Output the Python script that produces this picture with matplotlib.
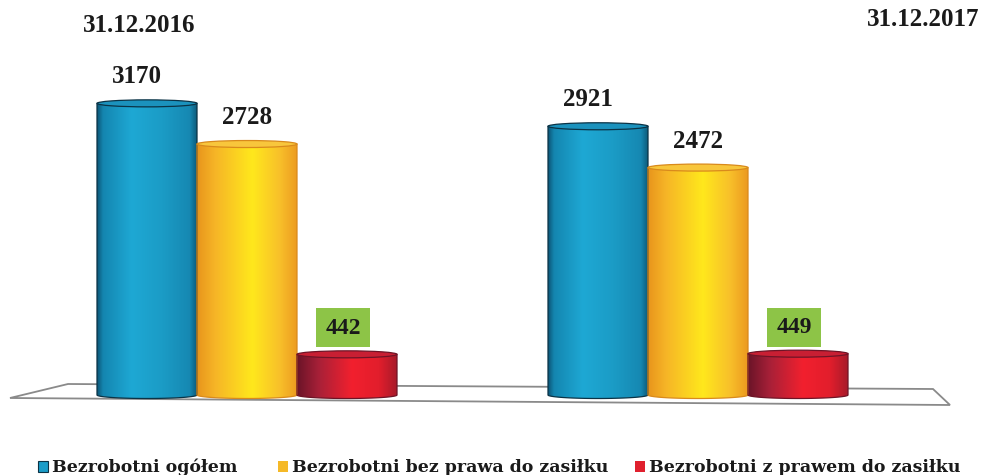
import numpy as np
import matplotlib
matplotlib.use("Agg")
import matplotlib.pyplot as plt
from matplotlib.patches import Ellipse, PathPatch, Polygon, Rectangle
from matplotlib.path import Path
from matplotlib.colors import LinearSegmentedColormap
from matplotlib.transforms import ScaledTranslation

# ---------------- data ----------------
dates = ["31.12.2016", "31.12.2017"]
series_labels = ["Bezrobotni ogółem",
                 "Bezrobotni bez prawa do zasiłku",
                 "Bezrobotni z prawem do zasiłku"]
ogolem = [3170, 2921]
bez_prawa = [2728, 2472]
z_prawem = [442, 449]

# ---------------- style ----------------
W, H = 984, 475
PX_PER_UNIT = 0.092
BASE_PX = 395            # baseline, px from top
TXT = "#1a1a1a"
SERIF = ["Liberation Serif", "DejaVu Serif"]

cmaps = [
    LinearSegmentedColormap.from_list("b", [(0, "#0c5576"), (0.06, "#1486b0"), (0.35, "#1ea8d4"),
                                            (0.65, "#1b9cc6"), (0.93, "#1688b2"), (1, "#0e5c7c")]),
    LinearSegmentedColormap.from_list("y", [(0, "#e8951c"), (0.18, "#f6b527"), (0.55, "#ffe81c"),
                                            (0.82, "#f8c02a"), (1, "#ec9a20")]),
    LinearSegmentedColormap.from_list("r", [(0, "#6a1428"), (0.22, "#a82038"), (0.55, "#f2202e"),
                                            (0.82, "#e21e2c"), (1, "#a81a2a")]),
]
top_colors = ["#1b92bd", "#f8c63c", "#c81f33"]
edge_colors = ["#0b3346", "#d98a1c", "#6e1426"]
legend_colors = ["#1a9cc8", "#f5b928", "#e0202e"]

fig = plt.figure(figsize=(W / 100, H / 100), dpi=100)
ax = fig.add_axes([0, 0, 1, 1])
ax.axis("off")
ylo = -(H - BASE_PX) / PX_PER_UNIT
yhi = BASE_PX / PX_PER_UNIT
unit_px = 451.0
x0_px = 247
x_left = -x0_px / unit_px
x_right = (W - x0_px) / unit_px


def fp(x, y):
    """figure pixel (from top) -> figure fraction"""
    return (x / W, 1 - y / H)


# floor (decoration)
floor = Polygon([fp(10, 398), fp(68, 384), fp(933, 389), fp(950, 405)], closed=True,
                facecolor="white", edgecolor="#8a8a8a", lw=1.3, transform=fig.transFigure, zorder=0)
ax.add_patch(floor)

bw = 100 / unit_px
x = np.arange(len(dates))
all_series = [ogolem, bez_prawa, z_prawem]
e = 3.5 / PX_PER_UNIT   # ellipse half-height in data units
grad = np.linspace(0, 1, 256).reshape(1, -1)

for si, vals in enumerate(all_series):
    bars = ax.bar(x + (si - 1) * bw, vals, width=bw, color="none", edgecolor="none", zorder=2)
    for bar, v in zip(bars, vals):
        x0 = bar.get_x()
        w = bar.get_width()
        h = bar.get_height()
        xc = x0 + w / 2
        t = np.linspace(np.pi, 2 * np.pi, 40)
        arc = np.column_stack([xc + w / 2 * np.cos(t), e * np.sin(t)])
        verts = np.vstack([[x0, h], arc, [x0 + w, h], [x0, h]])
        codes = [Path.MOVETO] + [Path.LINETO] * (len(verts) - 2) + [Path.CLOSEPOLY]
        path = Path(verts, codes)
        clip = PathPatch(path, facecolor="none", edgecolor=edge_colors[si], lw=0.9, zorder=3)
        ax.add_patch(clip)
        im = ax.imshow(grad, extent=[x0, x0 + w, -e, h], cmap=cmaps[si], aspect="auto",
                       interpolation="bilinear", zorder=2)
        im.set_clip_path(clip)
        ax.add_patch(Ellipse((xc, h), w, 2 * e, facecolor=top_colors[si],
                             edgecolor=edge_colors[si], lw=0.9, zorder=4))
        if si < 2:
            dx = -7 if si == 0 else 0
            ax.annotate(f"{v}", (xc, h), xytext=(dx, 19), textcoords="offset points",
                        ha="center", va="center", fontsize=18, fontweight="bold",
                        family=SERIF, color=TXT, zorder=5)
        else:
            trans = fig.dpi_scale_trans + ScaledTranslation(xc, h, ax.transData)
            ax.add_patch(Rectangle((-0.31, 0.07), 0.54, 0.39, transform=trans,
                                   facecolor="#8dc447", edgecolor="none", zorder=5))
            ax.annotate(f"{v}", (xc, h), xytext=(-2.9, 18.5), textcoords="offset points",
                        ha="center", va="center", fontsize=17, fontweight="bold",
                        family=SERIF, color=TXT, zorder=6)

ax.set_xlim(x_left, x_right)
ax.set_ylim(ylo, yhi)

# dates
fig.text(*fp(139, 26), dates[0], ha="center", va="center", fontsize=18,
         fontweight="bold", family=SERIF, color=TXT)
fig.text(*fp(923, 19), dates[1], ha="center", va="center", fontsize=18,
         fontweight="bold", family=SERIF, color=TXT)

# legend
leg_x = [38, 278, 635]
for lx, lab, col in zip(leg_x, series_labels, legend_colors):
    fig.patches.append(Rectangle(fp(lx, 472), 10 / W, 11 / H, transform=fig.transFigure,
                                 facecolor=col, edgecolor="#0b3346" if col == legend_colors[0] else "none",
                                 lw=0.8, figure=fig))
    fig.text(*fp(lx + 14, 467), lab, ha="left", va="center", fontsize=12.5,
             fontweight="bold", family=["DejaVu Serif"], color=TXT)

fig.savefig("out.png", dpi=100, facecolor="white")
